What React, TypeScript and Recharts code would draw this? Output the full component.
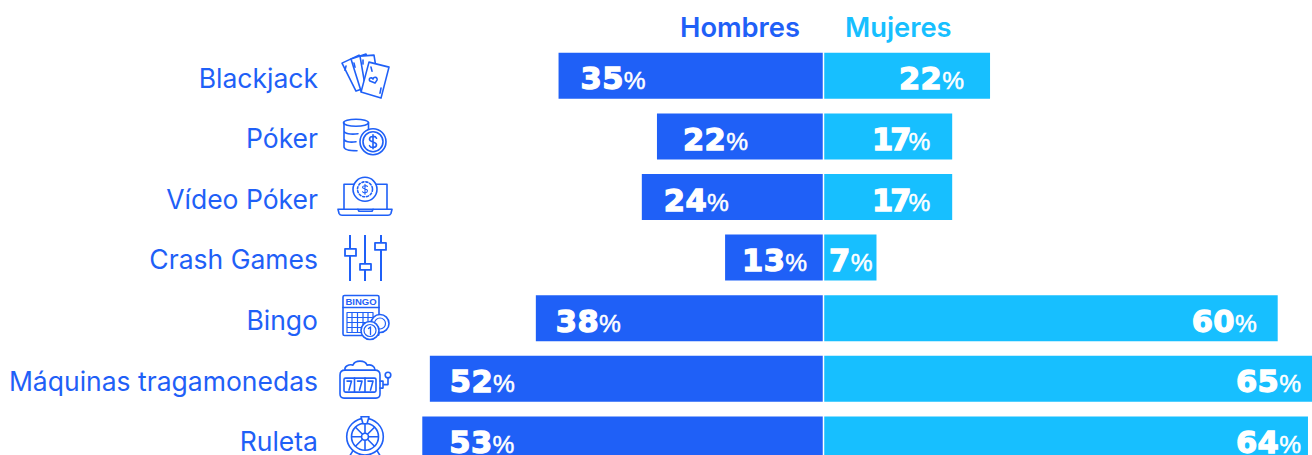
import React from "react";
import { BarChart, Bar, XAxis, YAxis, LabelList, ReferenceLine } from "recharts";

const categories = ["Blackjack", "Póker", "Vídeo Póker", "Crash Games", "Bingo", "Máquinas tragamonedas", "Ruleta"];
const hombres = [35, 22, 24, 13, 38, 52, 53];
const mujeres = [22, 17, 17, 7, 60, 65, 64];

// Layout: how far each value label sits from the outer end of its bar.
const hombresInset = [22, 26, 22, 17, 20, 20, 27];
const mujeresInset = [26, 22, 22, 4, 21, 11, 7];

const BLUE = "#1f60f7";
const CYAN = "#17bfff";
const LABEL_FONT = "Inter, 'Liberation Sans', Arial, sans-serif";
const PCT_FONT = "'Liberation Sans', Arial, sans-serif";

const rows = categories.map((c, i) => ({ name: c, hombres: -hombres[i], mujeres: mujeres[i], idx: i }));

const S = { fill: "none", stroke: BLUE, strokeWidth: 1.6, strokeLinejoin: "round", strokeLinecap: "round" } as const;

function Icon({ idx }: { idx: number }) {
  switch (idx) {
    case 0:
      return (
        <g {...S}>
          <path d="M-23 -13L-6 -21L6 10L-9 15Z" fill="#fff" />
          <path d="M-14 -17L1 -22L11 10L-4 15Z" fill="#fff" />
          <path d="M-5 -20L9 -21L14 10L1 15Z" fill="#fff" />
          <path d="M4 -14L24 -9L16 22L-4 16Z" fill="#fff" />
          <path d="M-19 -10l-1 4M-11 -13l1 4M-2 -16l0 4M6 -9l1 4M8 3c1-3 5-2 4 1l-2 3-5-2c-2-2 1-5 3-2zM16 12l-1 5" />
        </g>
      );
    case 1:
      return (
        <g {...S}>
          <ellipse cx={-9} cy={-14} rx={12.5} ry={3.5} />
          <path d="M-21 -14V10c0 3 6 4 13 4M3.5 -14V-7M-21 -6c0 3 7 4 14 3M-21 2c0 3 6 4 12 3" />
          <circle cx={8} cy={5} r={13} fill="#fff" />
          <circle cx={8} cy={5} r={10} />
          <path d="M11.5 1.5c-1-2.500-7-2.500-7 1s7 2 7 5.500-6 3.500-7 1M8 -2V12" />
        </g>
      );
    case 2:
      return (
        <g {...S}>
          <path d="M-11 -13H-21V12M11 -13H22V12M-27 12H27L26 16Q25 18 23 18H-23Q-25 18 -26 16Z" />
          <path d="M-7 12l1 2H7l1 -2" />
          <circle cx={0} cy={-8} r={12} />
          <circle cx={0} cy={-8} r={7.500} strokeDasharray="2 2" />
          <path d="M2.500 -11c-1-1-5-1-5 1s5 1 5 3.500-4 2.500-5 1M0 -13V-3" strokeWidth={1.1} />
        </g>
      );
    case 3:
      return (
        <g {...S} strokeWidth={2} strokeLinecap="butt">
          <path d="M-15 -23V-9M-15 -2V23M0 -23V6M0 12V23M16 -23V-15M16 -8V23" />
          <rect x={-20} y={-9} width={11} height={7} strokeWidth={1.8} />
          <rect x={-5} y={6} width={11} height={6} strokeWidth={1.8} />
          <rect x={10} y={-15} width={11} height={7} strokeWidth={1.8} />
        </g>
      );
    case 4:
      return (
        <g {...S}>
          <rect x={-22} y={-23} width={36} height={40} rx={1.500} />
          <path d="M-22 -11H14" />
          <text x={-4} y={-13.5} textAnchor="middle" fontSize={9.5} fontWeight={700} fontFamily={PCT_FONT} fill={BLUE} stroke="none">BINGO</text>
          <path d="M-18 -6H8V14H-18ZM-18 -1H8M-18 4H8M-18 9H0M-13 -6V14M-7.500 -6V14M-2 -6V14M3 -6V4" strokeWidth={1.2} />
          <circle cx={15} cy={5} r={9} fill="#fff" />
          <circle cx={15} cy={5} r={5.500} strokeWidth={1.2} />
          <circle cx={5} cy={12} r={9} fill="#fff" />
          <circle cx={5} cy={12} r={6} strokeWidth={1.2} />
          <path d="M3.500 10l2-1.500V16" strokeWidth={1.3} />
        </g>
      );
    case 5:
      return (
        <g {...S}>
          <path d="M-25 -4Q-25 -9 -20 -9H10Q15 -9 15 -4V15Q15 19 11 19H-21Q-25 19 -25 15Z" />
          <path d="M-20 -9c-1-4 4-6 8-5 1-3 4-4 7-4s6 1 7 4c4-1 8 1 8 5" />
          <rect x={-21} y={-1} width={32} height={14} rx={1.500} />
          <path d="M-10.500 -1V13M0 -1V13M-18 2H-13.500L-16 11M-7.500 2H-3L-5.500 11M3 2H8L5.500 11" />
          <path d="M15 2H18V9H15M18 5.500H23V-1" />
          <circle cx={23} cy={-4} r={2.800} />
        </g>
      );
    default:
      return (
        <g {...S}>
          <g transform="translate(0 -3)">
            <circle cx={0} cy={0} r={18.300} />
            <circle cx={0} cy={0} r={13.500} />
            <circle cx={0} cy={0} r={3.500} />
            <path d="M0 -13V-3.500M0 13V3.500M-13 0H-3.500M13 0H3.500M-9.500 -9.500L-2.500 -2.500M9.500 -9.500L2.500 -2.500M-9.500 9.500L-2.500 2.500M9.500 9.500L2.500 2.500" />
            <path d="M-4 -20H4L2 -13H-2Z" fill="#fff" />
            <path d="M-12 14L-17 22H17L12 14" />
          </g>
        </g>
      );
  }
}

function CategoryTick({ y, payload, index }: any) {
  const i = categories.indexOf(payload.value);
  return (
    <g>
      <text x={318} y={y} dy={11.5} textAnchor="end" fontFamily={LABEL_FONT} fontSize={26.5} fill={BLUE}>{payload.value}</text>
      <g transform={`translate(365 ${y})`}><Icon idx={i < 0 ? index : i} /></g>
    </g>
  );
}

function valueLabel(series: number[], inset: number[], side: "left" | "right") {
  return function Label({ x, y, width, height, index }: any) {
    const v = series[index];
    const left = Math.min(x, x + width);
    const right = Math.max(x, x + width);
    const base = y + height / 2 + 13.5;
    const tx = side === "left" ? left + inset[index] : Math.min(right, 1312) - inset[index];
    return (
      <text x={tx} y={base} fill="#fff" textAnchor={side === "left" ? "start" : "end"}>
        <tspan fontFamily="'DejaVu Sans'" fontWeight={700} fontSize={30.5} stroke="#fff" strokeWidth={1.3} letterSpacing={v === 17 ? -3 : 0.4}>{v}</tspan>
        <tspan fontFamily={PCT_FONT} fontSize={24.5} stroke="#fff" strokeWidth={0.5}>%</tspan>
      </text>
    );
  };
}

export default function App() {
  return (
    <div style={{ position: "absolute", left: 0, top: 0, width: 1312, height: 455, overflow: "hidden", background: "#fff" }}>
      <BarChart
        width={1312}
        height={470}
        data={rows}
        layout="vertical"
        stackOffset="sign"
        margin={{ top: 45.8, right: 0, bottom: 0, left: 0 }}
      >
        <XAxis type="number" hide domain={[-66.116, 64.531]} allowDataOverflow />
        <YAxis type="category" dataKey="name" width={323} axisLine={false} tickLine={false} interval={0} tick={<CategoryTick />} />
        <Bar dataKey="hombres" stackId="a" fill={BLUE} barSize={46} isAnimationActive={false}>
          <LabelList dataKey="hombres" content={valueLabel(hombres, hombresInset, "left")} />
        </Bar>
        <Bar dataKey="mujeres" stackId="a" fill={CYAN} barSize={46} isAnimationActive={false}>
          <LabelList dataKey="mujeres" content={valueLabel(mujeres, mujeresInset, "right")} />
        </Bar>
        <ReferenceLine x={0} stroke="#fff" strokeWidth={1.5} />
        <text x={800} y={37} textAnchor="end" fontFamily={LABEL_FONT} fontWeight={600} fontSize={27.3} fill={BLUE}>Hombres</text>
        <text x={845} y={37} fontFamily={LABEL_FONT} fontWeight={600} fontSize={27.3} fill={CYAN}>Mujeres</text>
      </BarChart>
    </div>
  );
}
